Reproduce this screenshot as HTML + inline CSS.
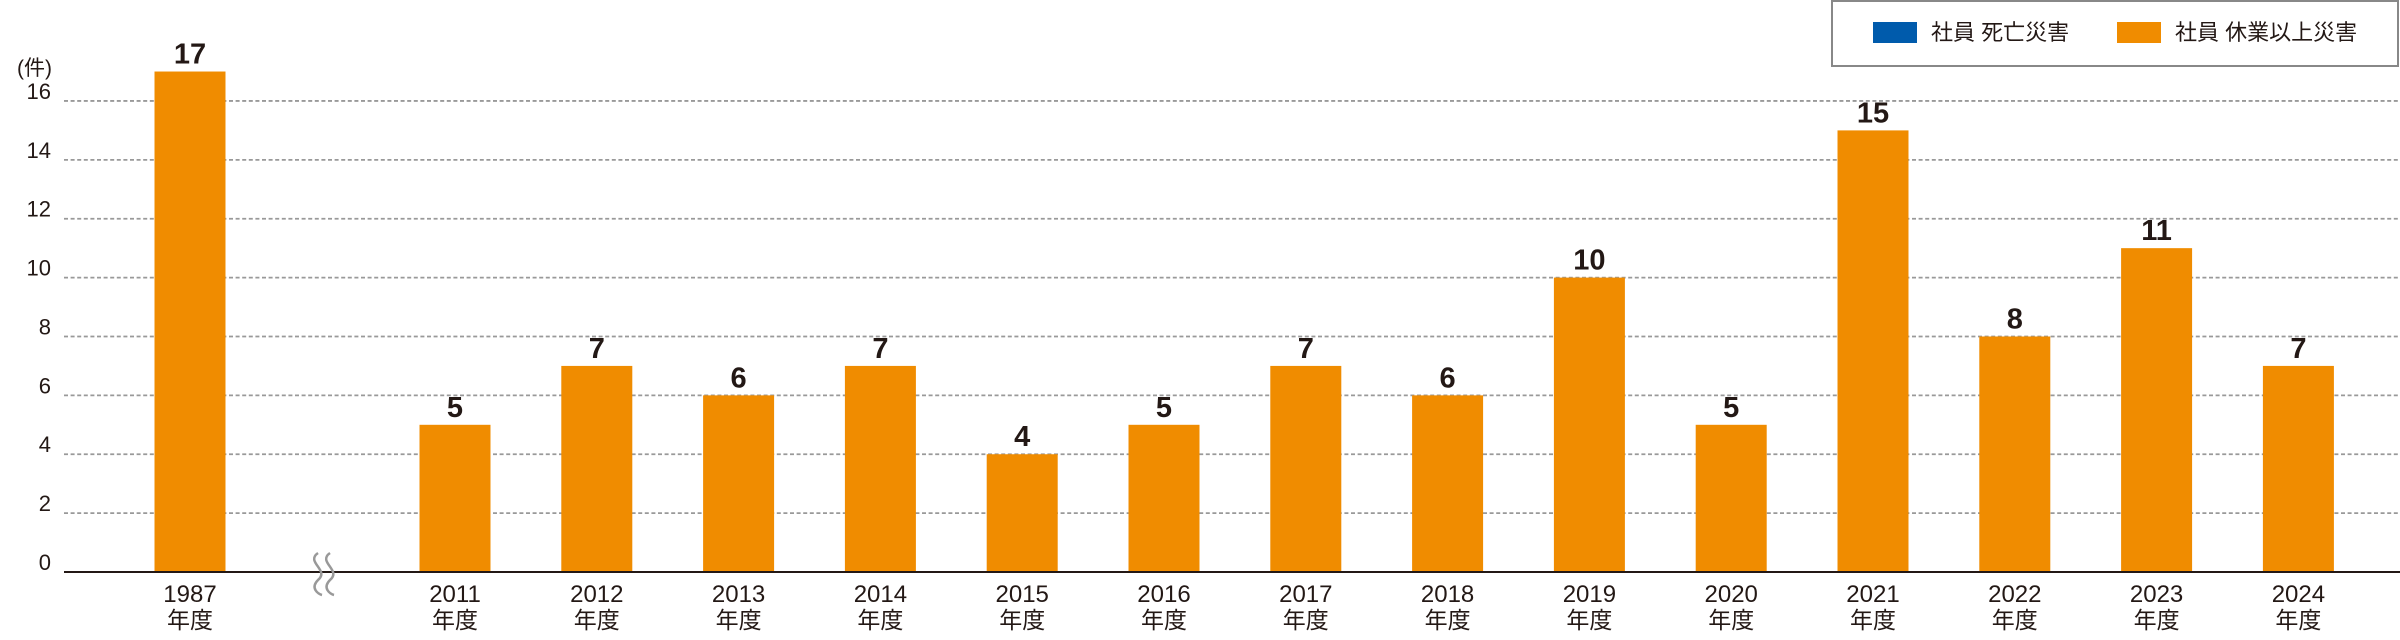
<!DOCTYPE html>
<html><head><meta charset="utf-8"><style>
html,body{margin:0;padding:0;background:#fff;}
svg{display:block;font-family:"Liberation Sans","Noto Sans CJK JP",sans-serif;}
</style></head><body>
<svg id="chart" width="2400" height="640" viewBox="0 0 2400 640" xmlns="http://www.w3.org/2000/svg">
<g>
<rect x="1832" y="1" width="566" height="65" fill="#fff" stroke="#888" stroke-width="2"/>
<rect x="1873" y="22" width="44" height="21" fill="#005BAC"/>
<text x="1931" y="40" font-size="22" fill="#231815">社員 死亡災害</text>
<rect x="2117" y="22" width="44" height="21" fill="#F08C00"/>
<text x="2175" y="40" font-size="22" fill="#231815">社員 休業以上災害</text>
</g>
<text x="17" y="75" font-size="21" fill="#231815">(件)</text>
<g id="grid"></g><g id="bars"></g><g id="labels"></g>
<line x1="64" y1="572" x2="2400" y2="572" stroke="#231815" stroke-width="2"/>
<g fill="none" stroke="#999" stroke-width="2.5">
<path d="M318,553 C305,562 330,570 318,580 C310,588 318,594 322,595"/>
<path d="M330,553 C317,562 342,570 330,580 C322,588 330,594 334,595"/>
</g>
</svg>
<script>
const categories = ["1987","2011","2012","2013","2014","2015","2016","2017","2018","2019","2020","2021","2022","2023","2024"];
const lostTimeValues = [17,5,7,6,7,4,5,7,6,10,5,15,8,11,7];
const yTicks = [0,2,4,6,8,10,12,14,16];

const NS = "http://www.w3.org/2000/svg";
const y0 = 572, unit = 29.44;
function yScale(v){ return y0 - v*unit; }
function xScale(i){ return i===0 ? 190 : 455 + (i-1)*141.8; }
const barW = 71;
function mk(tag, attrs, parent){ const e=document.createElementNS(NS,tag); for(const k in attrs) e.setAttribute(k,attrs[k]); parent.appendChild(e); return e; }
const grid=document.getElementById('grid'), bars=document.getElementById('bars'), labels=document.getElementById('labels');
yTicks.forEach(t=>{
  const y=yScale(t);
  if(t>0){
    const l=mk('line',{x1:64,x2:2400,y1:y,y2:y,stroke:'#999','stroke-width':1.8,'stroke-dasharray':'4 2.6'},grid);
    
    
  }
  const tx=mk('text',{x:51,y:y-2,'font-size':22,fill:'#231815','text-anchor':'end'},labels);
  tx.textContent=t;
  
  
});
categories.forEach((c,i)=>{
  const v=lostTimeValues[i], cx=xScale(i), top=yScale(v);
  const r=mk('rect',{x:cx-barW/2,y:top,width:barW,height:y0-top,fill:'#F08C00'},bars);
  
  
  const vl=mk('text',{x:cx,y:top-8,'font-size':29,'font-weight':'bold',fill:'#231815','text-anchor':'middle'},labels);
  vl.textContent=v;
  
  
  const yl=mk('text',{x:cx,y:602,'font-size':24,fill:'#231815','text-anchor':'middle'},labels);
  yl.textContent=c;
  
  
  const nd=mk('text',{x:cx,y:628,'font-size':23,fill:'#231815','text-anchor':'middle'},labels);
  nd.textContent='年度';
  
  
});
</script>
</body></html>
